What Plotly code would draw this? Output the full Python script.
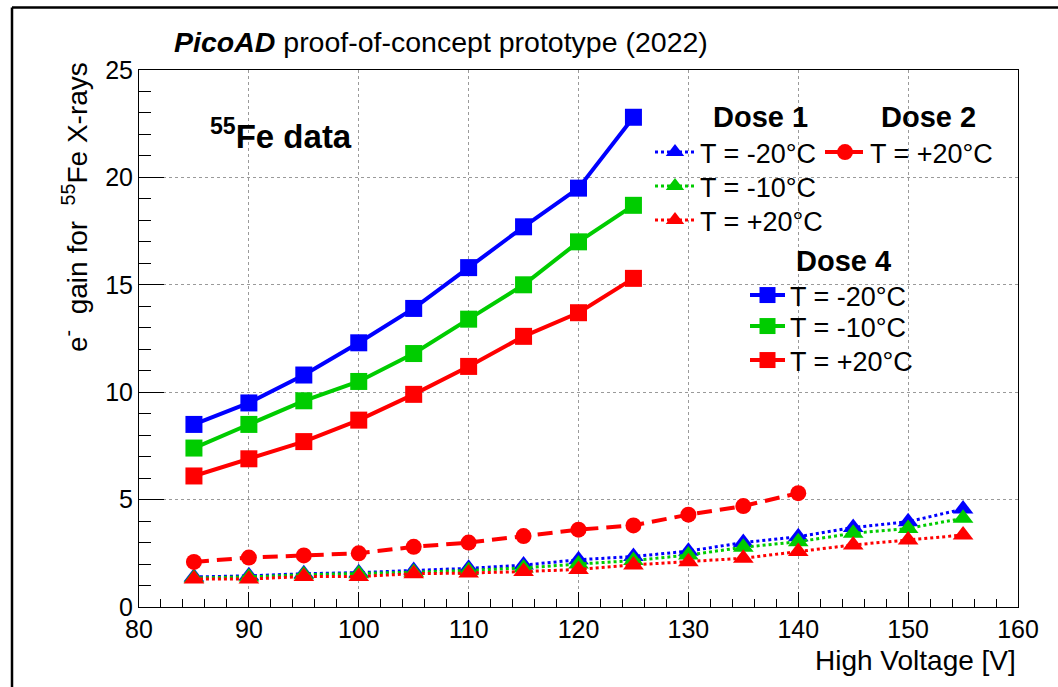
import plotly.graph_objects as go

# ---------------- data ----------------
hv_d1 = [85, 90, 95, 100, 105, 110, 115, 120, 125, 130, 135, 140, 145, 150, 155]
d1_m20 = [1.40, 1.45, 1.55, 1.60, 1.70, 1.80, 1.95, 2.20, 2.35, 2.60, 3.00, 3.27, 3.70, 3.97, 4.56]
d1_m10 = [1.35, 1.40, 1.50, 1.55, 1.62, 1.70, 1.82, 2.00, 2.16, 2.42, 2.78, 3.04, 3.43, 3.66, 4.13]
d1_p20 = [1.30, 1.30, 1.42, 1.42, 1.55, 1.58, 1.65, 1.75, 1.96, 2.11, 2.27, 2.58, 2.89, 3.12, 3.35]

hv_d2 = [85, 90, 95, 100, 105, 110, 115, 120, 125, 130, 135, 140]
d2_p20 = [2.1, 2.3, 2.4, 2.5, 2.8, 3.0, 3.3, 3.6, 3.8, 4.3, 4.7, 5.3]

hv_d4 = [85, 90, 95, 100, 105, 110, 115, 120, 125]
d4_m20 = [8.5, 9.5, 10.8, 12.3, 13.9, 15.8, 17.7, 19.5, 22.8]
d4_m10 = [7.4, 8.5, 9.6, 10.5, 11.8, 13.4, 15.0, 17.0, 18.7]
d4_p20 = [6.1, 6.9, 7.7, 8.7, 9.9, 11.2, 12.6, 13.7, 15.3]

labels = ["T = -20°C", "T = -10°C", "T = +20°C"]
BLUE, GREEN, RED = "#0000ff", "#00cc00", "#ff0000"
FONT = "Liberation Sans, Arial, Helvetica, sans-serif"

W, H = 1058, 687
L, R, T, B = 139, 40, 70, 80
pw, ph = W - L - R, H - T - B
def px(xp):
    return (xp - L) / pw
def py(yp):
    return (H - B - yp) / ph

fig = go.Figure()

# legend slots: (left px, row-centre px, itemwidth)
slots_d1 = [(650, 153, 40), (650, 187, 40), (650, 221, 40)]
slot_d2 = (820, 153, 40)
slots_d4 = [(745, 296, 35), (745, 327, 35), (745, 361, 35)]

legend_layout = {}
def make_legend(idx, slot):
    key = "legend" if idx == 1 else f"legend{idx}"
    x0, yc, iw = slot
    legend_layout[key] = dict(
        x=px(x0), y=py(yc - 25), xanchor="left", yanchor="top", itemwidth=iw,
        bgcolor="rgba(0,0,0,0)", borderwidth=0,
        font=dict(family=FONT, size=27, color="black"))
    return key

n = 1
# Dose 1 (dotted, triangles)
for ys, lab, col, slot in zip([d1_m20, d1_m10, d1_p20], labels, [BLUE, GREEN, RED], slots_d1):
    fig.add_trace(go.Scatter(
        x=hv_d1, y=ys, name=lab, mode="lines+markers", legend=make_legend(n, slot),
        line=dict(color=col, width=3, dash="dot"),
        marker=dict(symbol="triangle-up", size=18, color=col)))
    n += 1

# Dose 2 (dashed, circles)
fig.add_trace(go.Scatter(
    x=hv_d2, y=d2_p20, name="T = +20°C", mode="lines+markers", legend=make_legend(n, slot_d2),
    line=dict(color=RED, width=4, dash="15px,8px"),
    marker=dict(symbol="circle", size=16, color=RED)))
n += 1

# Dose 4 (solid, squares)
for ys, lab, col, slot in zip([d4_m20, d4_m10, d4_p20], labels, [BLUE, GREEN, RED], slots_d4):
    fig.add_trace(go.Scatter(
        x=hv_d4, y=ys, name=lab, mode="lines+markers", legend=make_legend(n, slot),
        line=dict(color=col, width=4),
        marker=dict(symbol="square", size=17, color=col)))
    n += 1

axis_common = dict(showline=True, linecolor="black", linewidth=1, mirror=True,
                   ticks="inside", tickcolor="black", showgrid=True,
                   gridcolor="#9a9a9a", griddash="dot", gridwidth=1,
                   zeroline=False, tickfont=dict(family=FONT, size=25, color="black"))

fig.update_layout(
    width=W, height=H, autosize=False,
    margin=dict(l=L, r=R, t=T, b=B, pad=0),
    paper_bgcolor="white", plot_bgcolor="white",
    font=dict(family=FONT, color="black"),
    xaxis=dict(range=[80, 160], dtick=10, tick0=80, ticklen=15,
               minor=dict(dtick=2, ticklen=8, ticks="inside", tickcolor="black", showgrid=False),
               **axis_common),
    yaxis=dict(range=[0, 25], dtick=5, tick0=0, ticklen=25,
               minor=dict(dtick=1, ticklen=12, ticks="inside", tickcolor="black", showgrid=False),
               **axis_common),
    showlegend=True,
    **legend_layout,
)

annotations = [
    dict(text="<b><i>PicoAD</i></b> proof-of-concept prototype (2022)",
         x=px(172), y=py(42), xanchor="left", yanchor="middle",
         font=dict(family=FONT, size=28.5, color="black")),
    dict(text="<b><sup>55</sup>Fe data</b>", x=px(208), y=py(134),
         xanchor="left", yanchor="middle",
         font=dict(family=FONT, size=33, color="black")),
    dict(text="<b>Dose 1</b>", x=px(760), y=py(117), xanchor="center", yanchor="middle",
         font=dict(family=FONT, size=29, color="black")),
    dict(text="<b>Dose 2</b>", x=px(928), y=py(117), xanchor="center", yanchor="middle",
         font=dict(family=FONT, size=29, color="black")),
    dict(text="<b>Dose 4</b>", x=px(843), y=py(261), xanchor="center", yanchor="middle",
         font=dict(family=FONT, size=29, color="black")),
    dict(text="High Voltage [V]", x=1.0, y=py(660), xanchor="right", yanchor="middle",
         font=dict(family=FONT, size=28, color="black")),
    dict(text="e<sup>-</sup>&nbsp;&nbsp;gain for&nbsp;&nbsp;<sup>55</sup>Fe&nbsp;X-rays",
         x=px(75), y=py(60), xanchor="center", yanchor="top", textangle=-90,
         font=dict(family=FONT, size=28, color="black")),
]
for a in annotations:
    a.update(xref="paper", yref="paper", showarrow=False)
    fig.add_annotation(**a)

# canvas frame (ROOT style)
fig.add_shape(type="line", xref="paper", yref="paper",
              x0=px(12), x1=px(12), y0=py(700), y1=py(7.5),
              line=dict(color="black", width=2.5))
fig.add_shape(type="line", xref="paper", yref="paper",
              x0=px(12), x1=px(1070), y0=py(7.5), y1=py(7.5),
              line=dict(color="black", width=2.5))

fig.write_html("out.html")
